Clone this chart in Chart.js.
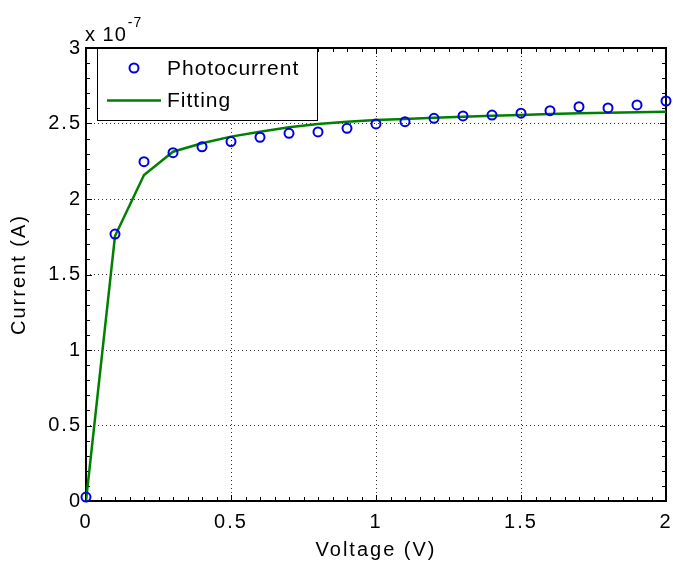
<!DOCTYPE html>
<html>
<head>
<meta charset="utf-8">
<script src="https://cdn.jsdelivr.net/npm/chart.js@4"></script>
<style>
html,body{margin:0;padding:0;background:#fff;}
#wrap{width:673px;height:562px;position:relative;}
</style>
</head>
<body>
<div id="wrap"><canvas id="c" width="673" height="562"></canvas></div>
<script>
// ---- data (current in units of 1e-7 A) ----
const voltage = [0, 0.1, 0.2, 0.3, 0.4, 0.5, 0.6, 0.7, 0.8, 0.9, 1.0, 1.1, 1.2, 1.3, 1.4, 1.5, 1.6, 1.7, 1.8, 1.9, 2.0];
const photocurrent = [0.026, 1.768, 2.247, 2.307, 2.346, 2.38, 2.409, 2.435, 2.444, 2.468, 2.497, 2.512, 2.534, 2.55, 2.556, 2.568, 2.585, 2.611, 2.603, 2.623, 2.649];
const fitting = [0, 1.755, 2.159, 2.313, 2.369, 2.413, 2.446, 2.475, 2.497, 2.512, 2.523, 2.53, 2.538, 2.545, 2.551, 2.557, 2.563, 2.568, 2.572, 2.575, 2.578];
const seriesLabels = ['Photocurrent', 'Fitting'];
const xTickStep = 0.5;
const yTickStep = 0.5;
const xMinorStep = 0.05;
const yMinorStep = 0.1;
const yExponent = '-7';
const xTitle = 'Voltage (V)';
const yTitle = 'Current (A)';

const BLUE = 'rgb(0,0,225)';
const GREEN = 'rgb(0,128,0)';
const FONT = "'Liberation Sans', Arial, Helvetica, sans-serif";

Chart.defaults.font.family = FONT;
Chart.defaults.font.size = 20;
Chart.defaults.color = '#000';

const photoPts = voltage.map((v, i) => ({x: v, y: photocurrent[i]}));
const fitPts = voltage.map((v, i) => ({x: v, y: fitting[i]}));
const fmt = (v) => String(+Number(v).toFixed(2));

const matlabAxes = {
  id: 'matlabAxes',
  beforeDraw(chart) {
    chart.ctx.letterSpacing = '2px';
  },
  beforeDatasetsDraw(chart) {
    const {ctx, chartArea: a, scales: {x, y}} = chart;
    ctx.save();
    ctx.letterSpacing = '0px';
    ctx.strokeStyle = '#000';
    ctx.lineWidth = 1;
    const nx = Math.round((x.max - x.min) / xMinorStep);
    ctx.beginPath();
    for (let i = 0; i <= nx; i++) {
      const v = x.min + i * xMinorStep;
      const px = Math.round(x.getPixelForValue(v)) + 0.5;
      const major = Math.abs(v / xTickStep - Math.round(v / xTickStep)) < 1e-6;
      const len = major ? 6 : 4;
      ctx.moveTo(px, a.bottom); ctx.lineTo(px, a.bottom - len);
      ctx.moveTo(px, a.top); ctx.lineTo(px, a.top + len);
    }
    const ny = Math.round((y.max - y.min) / yMinorStep);
    for (let i = 0; i <= ny; i++) {
      const v = y.min + i * yMinorStep;
      const py = Math.round(y.getPixelForValue(v)) + 0.5;
      const major = Math.abs(v / yTickStep - Math.round(v / yTickStep)) < 1e-6;
      const len = major ? 6 : 4;
      ctx.moveTo(a.left, py); ctx.lineTo(a.left + len, py);
      ctx.moveTo(a.right, py); ctx.lineTo(a.right - len, py);
    }
    ctx.stroke();
    ctx.lineWidth = 2;
    ctx.strokeRect(a.left, a.top, a.right - a.left, a.bottom - a.top);
    ctx.restore();
  },
  afterDraw(chart) {
    const {ctx, chartArea: a} = chart;
    ctx.save();
    ctx.letterSpacing = '1px';
    ctx.fillStyle = '#000';
    ctx.textAlign = 'left';
    ctx.textBaseline = 'alphabetic';
    ctx.font = '20px ' + FONT;
    ctx.fillText('x 10', a.left - 1, a.top - 7);
    const w = ctx.measureText('x 10').width;
    ctx.font = '14px ' + FONT;
    ctx.fillText(yExponent, a.left - 1 + w + 1, a.top - 21);

    const lx = a.left + 11, ly = a.top, lw = 221, lh = 73;
    ctx.fillStyle = '#fff';
    ctx.fillRect(lx, ly, lw, lh);
    ctx.strokeStyle = '#000';
    ctx.lineWidth = 1;
    ctx.strokeRect(lx + 0.5, ly + 0.5, lw - 1, lh - 1);
    const ds = chart.data.datasets;
    ctx.strokeStyle = ds[0].borderColor;
    ctx.lineWidth = 2;
    ctx.beginPath();
    ctx.arc(lx + 37, ly + 20, 4.5, 0, Math.PI * 2);
    ctx.stroke();
    ctx.strokeStyle = ds[1].borderColor;
    ctx.lineWidth = 2.5;
    ctx.beginPath();
    ctx.moveTo(lx + 10, ly + 52.5);
    ctx.lineTo(lx + 64, ly + 52.5);
    ctx.stroke();
    ctx.fillStyle = '#000';
    ctx.font = '21px ' + FONT;
    ctx.letterSpacing = '1px';
    ctx.textBaseline = 'middle';
    ctx.fillText(ds[0].label, lx + 70, ly + 21);
    ctx.fillText(ds[1].label, lx + 70, ly + 53);
    ctx.restore();
  }
};

new Chart(document.getElementById('c'), {
  type: 'scatter',
  data: {
    datasets: [
      {
        label: seriesLabels[0],
        data: photoPts,
        showLine: false,
        pointStyle: 'circle',
        pointRadius: 4.5,
        pointBorderWidth: 2,
        borderColor: BLUE,
        backgroundColor: 'rgba(0,0,0,0)',
        pointBackgroundColor: 'rgba(0,0,0,0)',
        clip: false,
        order: 0
      },
      {
        label: seriesLabels[1],
        data: fitPts,
        showLine: true,
        pointRadius: 0,
        borderColor: GREEN,
        borderWidth: 2.5,
        backgroundColor: GREEN,
        tension: 0,
        fill: false,
        order: 1
      }
    ]
  },
  options: {
    responsive: false,
    animation: false,
    devicePixelRatio: 1,
    layout: {padding: {top: 48, right: 7, bottom: 0, left: 0}},
    plugins: {legend: {display: false}, tooltip: {enabled: false}},
    scales: {
      x: {
        type: 'linear',
        min: 0, max: 2,
        afterFit(s) { s.height = 61; s.paddingLeft = 0; s.paddingRight = 0; },
        ticks: {stepSize: xTickStep, autoSkip: false, maxRotation: 0, padding: 9, color: '#000', font: {size: 20}, callback: fmt},
        grid: {color: 'rgba(0,0,0,0.8)', lineWidth: 1, drawTicks: false},
        border: {display: false, dash: [1, 3]},
        title: {display: true, text: xTitle, color: '#000', font: {size: 20}, padding: {top: 0, bottom: 0}}
      },
      y: {
        type: 'linear',
        min: 0, max: 3,
        afterFit(s) { s.width = 86; s.paddingTop = 0; s.paddingBottom = 0; },
        ticks: {stepSize: yTickStep, autoSkip: false, padding: 4, color: '#000', font: {size: 20}, callback: fmt},
        grid: {color: 'rgba(0,0,0,0.8)', lineWidth: 1, drawTicks: false},
        border: {display: false, dash: [1, 3]},
        title: {display: true, text: yTitle, color: '#000', font: {size: 20}, padding: {top: 7, bottom: 0}}
      }
    }
  },
  plugins: [matlabAxes]
});
</script>
</body>
</html>
